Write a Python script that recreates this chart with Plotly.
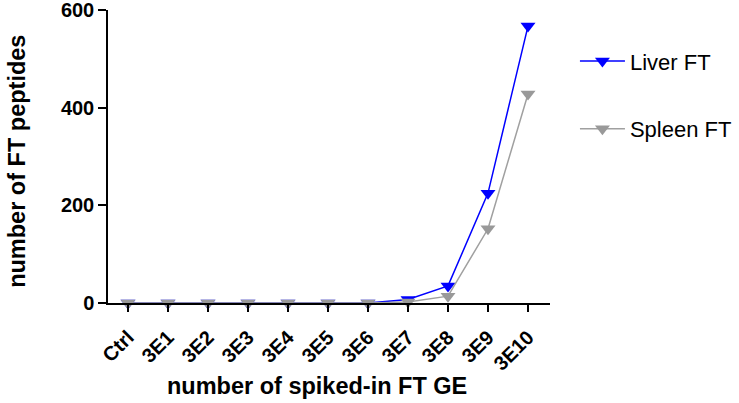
import plotly.graph_objects as go

# categories on the x axis
categories = ["Ctrl", "3E1", "3E2", "3E3", "3E4", "3E5", "3E6", "3E7", "3E8", "3E9", "3E10"]

# number of FT peptides per dilution
liver_ft = [0, 0, 0, 0, 0, 0, 0, 7, 35, 225, 567]
spleen_ft = [0, 0, 0, 0, 0, 0, 0, 2, 14, 152, 428]

y_ticks = [0, 200, 400, 600]

x_idx = list(range(len(categories)))

fig = go.Figure()

fig.add_trace(go.Scatter(
    x=x_idx, y=liver_ft, name="Liver FT", mode="lines+markers",
    line=dict(color="#0000ff", width=1.5),
    marker=dict(symbol="triangle-down", size=13, color="#0000ff"),
    legendgroup="liver", cliponaxis=False,
))
fig.add_trace(go.Scatter(
    x=x_idx, y=spleen_ft, name="Spleen FT", mode="lines+markers",
    line=dict(color="#a0a0a0", width=1.5),
    marker=dict(symbol="triangle-down", size=13, color="#999999"),
    legendgroup="spleen", cliponaxis=False,
))

fig.update_layout(
    width=739, height=403,
    margin=dict(l=108, r=189, t=10, b=100),
    plot_bgcolor="white", paper_bgcolor="white",
    font=dict(family="Arial, Liberation Sans", color="black"),
    # container-referenced legend so it does not push the plot margins
    legend=dict(
        xref="container", yref="container",
        x=0.778, y=0.9, xanchor="left", yanchor="top",
        font=dict(size=22), tracegroupgap=36, itemwidth=45,
        bgcolor="rgba(0,0,0,0)",
    ),
    xaxis=dict(
        range=[-0.5, 10.55], tickmode="array", tickvals=x_idx,
        ticktext=["<b>%s</b>" % c for c in categories],
        tickangle=-45, tickfont=dict(size=20),
        showline=True, linecolor="black", linewidth=1.5, showgrid=False, zeroline=False,
        ticks="outside", ticklen=7, tickwidth=1.5, tickcolor="black",
        ticklabelstandoff=6, automargin=False, ticklabeloverflow="allow",
    ),
    yaxis=dict(
        range=[0, 600], tickmode="array", tickvals=y_ticks,
        ticktext=["<b>%d</b>" % v for v in y_ticks],
        tickfont=dict(size=20),
        showline=True, linecolor="black", linewidth=1.5, showgrid=False, zeroline=False,
        ticks="outside", ticklen=8, tickwidth=1.5, tickcolor="black",
        automargin=False, ticklabeloverflow="allow",
    ),
    annotations=[
        dict(text="<b>number of spiked-in FT GE</b>", xref="paper", yref="paper",
             x=0.473, y=-0.283, xanchor="center", yanchor="middle",
             showarrow=False, font=dict(size=23.5)),
        dict(text="<b>number of FT peptides</b>", xref="paper", yref="paper",
             x=-0.206, y=0.485, xanchor="center", yanchor="middle", textangle=-90,
             showarrow=False, font=dict(size=23.5)),
    ],
)

# drop the default 8px body margin so the figure sits at the page corner
fig.write_html("out.html", config={"displayModeBar": False},
               post_script="document.body.style.margin = '0';")
